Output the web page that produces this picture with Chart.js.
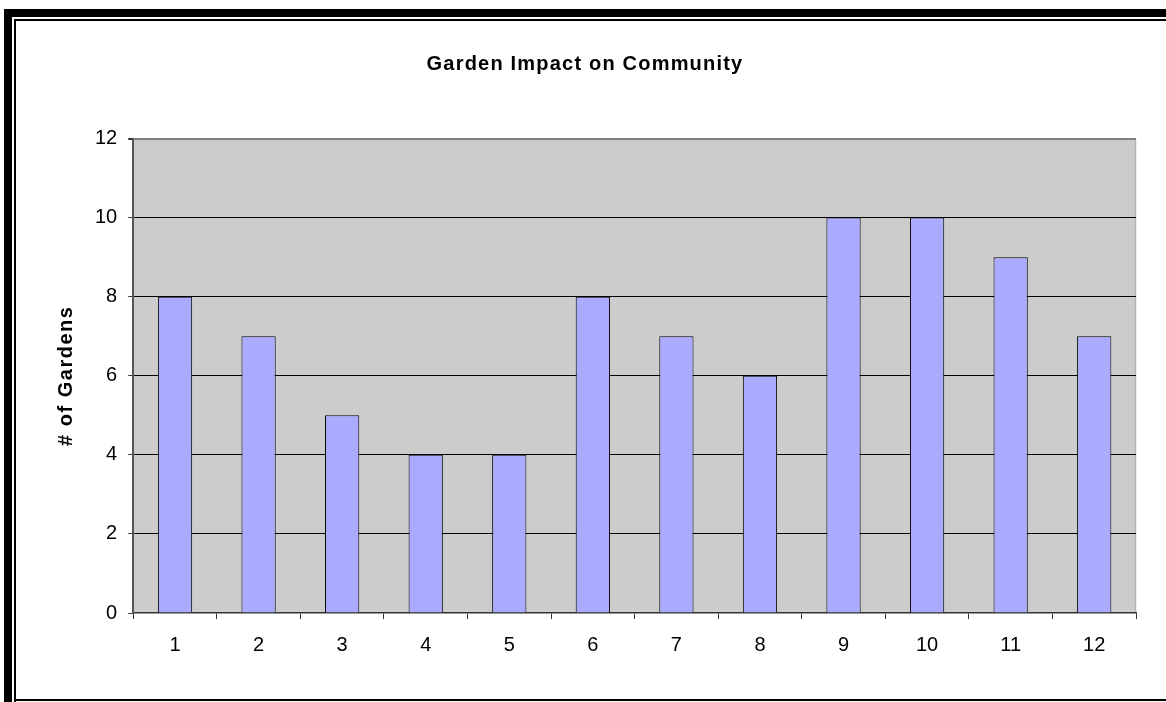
<!DOCTYPE html>
<html>
<head>
<meta charset="utf-8">
<title>Garden Impact on Community</title>
<script src="https://cdn.jsdelivr.net/npm/chart.js@4"></script>
<style>
  html, body { margin: 0; padding: 0; background: #ffffff; }
  canvas { display: block; }
</style>
</head>
<body>
<canvas id="chart" width="1166" height="702"></canvas>
<script>
// Number of gardens reporting each community impact (items 1-12)
const categories = ['1', '2', '3', '4', '5', '6', '7', '8', '9', '10', '11', '12'];
const gardenCounts = [8, 7, 5, 4, 4, 8, 7, 6, 10, 10, 9, 7];
const yTicks = [0, 2, 4, 6, 8, 10, 12];

const chartTitle = 'Garden Impact on Community';
const yAxisTitle = '# of Gardens';

const FONT = '"Liberation Sans", Arial, Helvetica, sans-serif';

// Grey plot area with a light edge on the right
const plotBackground = {
  id: 'plotBackground',
  beforeDraw(chart) {
    const { ctx, chartArea: a } = chart;
    ctx.save();
    ctx.fillStyle = '#cccccc';
    ctx.fillRect(a.left, a.top, a.right - a.left, a.bottom - a.top);
    ctx.strokeStyle = '#b4b4b4';
    ctx.lineWidth = 1.5;
    ctx.beginPath();
    ctx.moveTo(a.right - 0.5, a.top);
    ctx.lineTo(a.right - 0.5, a.bottom);
    ctx.stroke();
    ctx.restore();
  }
};

// Double black frame around the whole chart
const outerFrame = {
  id: 'outerFrame',
  afterDraw(chart) {
    const { ctx, width, height } = chart;
    ctx.save();
    ctx.fillStyle = '#000000';
    ctx.fillRect(4, 9, width - 4, 8);
    ctx.fillRect(4, 9, 8, height - 9);
    ctx.fillRect(14, 19, width - 14, 2);
    ctx.fillRect(14, 19, 2, height - 19);
    ctx.fillRect(14, height - 3, width - 14, 2);
    ctx.restore();
  }
};

// Bold headings are drawn slightly letter-spaced; the title is centred on the page
const spacedHeadings = {
  id: 'spacedHeadings',
  afterLayout(chart) {
    const wrap = (obj, name, spacing) => {
      if (!obj || obj['_spaced_' + name]) return;
      const orig = obj[name];
      obj[name] = function (...args) {
        const ctx = chart.ctx;
        const prev = ctx.letterSpacing;
        ctx.letterSpacing = spacing;
        const r = orig.apply(this, args);
        ctx.letterSpacing = prev || '0px';
        return r;
      };
      obj['_spaced_' + name] = true;
    };
    if (chart.titleBlock) {
      chart.titleBlock.left = 34;
      chart.titleBlock.right = chart.width - 30;
    }
    wrap(chart.titleBlock, 'draw', '1.2px');
    wrap(chart.scales.y, 'drawTitle', '1.5px');
  }
};

new Chart(document.getElementById('chart'), {
  type: 'bar',
  data: {
    labels: categories,
    datasets: [{
      data: gardenCounts,
      backgroundColor: '#aaaaff',
      borderColor: '#000000',
      borderWidth: 1,
      borderSkipped: 'bottom',
      barPercentage: 0.41,
      categoryPercentage: 1.0
    }]
  },
  options: {
    responsive: false,
    animation: false,
    devicePixelRatio: 1,
    layout: { padding: { left: 10, right: 30, top: 10, bottom: 31 } },
    plugins: {
      legend: { display: false },
      tooltip: { enabled: false },
      title: {
        display: true,
        text: chartTitle,
        color: '#000000',
        font: { family: FONT, size: 20, weight: 'bold' },
        padding: { top: 42, bottom: 62.5 }
      }
    },
    scales: {
      x: {
        offset: true,
        grid: {
          offset: true,
          drawOnChartArea: false,
          drawTicks: true,
          tickLength: 6,
          tickColor: '#333333'
        },
        border: { display: true, color: '#333333', width: 1.5 },
        ticks: {
          color: '#000000',
          font: { family: FONT, size: 20 },
          padding: 14,
          maxRotation: 0
        }
      },
      y: {
        min: 0,
        max: 12,
        afterBuildTicks(scale) {
          scale.ticks = yTicks.map(v => ({ value: v }));
        },
        grid: {
          color(ctx) {
            const v = ctx.tick && ctx.tick.value;
            if (v === 0) return 'rgba(0,0,0,0)';
            if (v === 12) return '#808080';
            return '#000000';
          },
          lineWidth(ctx) {
            const v = ctx.tick && ctx.tick.value;
            return v === 12 ? 2 : 1;
          },
          drawTicks: true,
          tickLength: 5,
          tickColor: '#333333'
        },
        border: { display: true, color: '#555555', width: 2 },
        ticks: {
          color: '#000000',
          font: { family: FONT, size: 20 },
          padding: 11
        },
        title: {
          display: true,
          text: yAxisTitle,
          color: '#000000',
          font: { family: FONT, size: 20, weight: 'bold' },
          padding: { top: 44, bottom: 6 }
        }
      }
    }
  },
  plugins: [plotBackground, spacedHeadings, outerFrame]
});
</script>
</body>
</html>
